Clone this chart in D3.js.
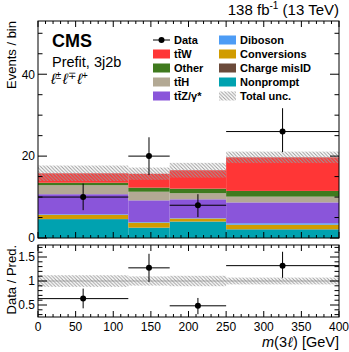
<!DOCTYPE html>
<html>
<head>
<meta charset="utf-8">
<script src="https://cdn.jsdelivr.net/npm/d3@7"></script>
<style>
  body { margin: 0; background: #fff; }
  svg text { font-family: "Liberation Sans", Arial, sans-serif; fill: #000; }
</style>
</head>
<body>
<div id="chart"></div>
<script>
// bins in m(3l)
var binEdges = [0, 120, 175, 250, 400];

// prefit yields per bin
var nonprompt   = [4.6, 2.5, 4.0, 2.1];
var chargeMisID = [0.05, 0.05, 0.05, 0.05];
var conversions = [1.0, 1.2, 0.7, 1.1];
var diboson     = [0.15, 0.15, 0.1, 0.35];
var ttZ         = [4.9, 5.3, 4.6, 5.1];
var ttH         = [2.2, 2.1, 1.5, 1.4];
var other       = [0.6, 1.0, 1.1, 1.4];
var ttW         = [2.3, 3.4, 4.5, 8.2];
var totalUnc    = [1.9, 1.5, 1.8, 1.4];

// data
var dataY     = [10, 20, 8, 26];
var dataErrLo = [3.2, 4.6, 2.9, 5.0];
var dataErrHi = [3.3, 4.6, 2.7, 5.7];

var xTicks = [0, 50, 100, 150, 200, 250, 300, 350, 400];
var yTicks = [0, 20, 40];
var rTicks = [0.5, 1, 1.5];

var procs = [
  {key: "nonprompt",   vals: nonprompt,   color: "#00a2b0"},
  {key: "chargeMisID", vals: chargeMisID, color: "#6b4a3a"},
  {key: "conversions", vals: conversions, color: "#d19c00"},
  {key: "diboson",     vals: diboson,     color: "#4d9cf5"},
  {key: "ttZ",         vals: ttZ,         color: "#8a55da"},
  {key: "ttH",         vals: ttH,         color: "#b3a994"},
  {key: "other",       vals: other,       color: "#3f7a1e"},
  {key: "ttW",         vals: ttW,         color: "#ff3636"}
];

var bins = d3.range(binEdges.length - 1).map(function(i){
  var row = {lo: binEdges[i], hi: binEdges[i+1]};
  procs.forEach(function(p){ row[p.key] = p.vals[i]; });
  return row;
});
var totals = bins.map(function(b){ return d3.sum(procs, function(p){ return b[p.key]; }); });

var W = 349, H = 352;
var left = 38, right = 339;
var main = {top: 21, bottom: 238};
var rat = {top: 245, bottom: 317};

var svg = d3.select("#chart").append("svg").attr("width", W).attr("height", H);

var defs = svg.append("defs");
defs.append("pattern")
    .attr("id", "hatch")
    .attr("patternUnits", "userSpaceOnUse")
    .attr("width", 3.5).attr("height", 3.5)
  .append("path")
    .attr("d", "M-1,-1 L4.5,4.5 M2.5,-1 L4.5,1 M-1,2.5 L1,4.5")
    .attr("stroke", "#9a9a9a")
    .attr("stroke-width", 1);

var x = d3.scaleLinear().domain([0, 400]).range([left, right]);
var y = d3.scaleLinear().domain([0, 53]).range([main.bottom, main.top]);
var yr = d3.scaleLinear().domain([0.25, 1.75]).range([rat.bottom, rat.top]);

// stacked histogram
var stack = d3.stack().keys(procs.map(function(p){ return p.key; }));
var layers = stack(bins);

var gMain = svg.append("g");
layers.forEach(function(layer, li){
  gMain.selectAll(null).data(layer).enter().append("rect")
      .attr("x", function(d){ return x(d.data.lo); })
      .attr("width", function(d){ return x(d.data.hi) - x(d.data.lo); })
      .attr("y", function(d){ return y(d[1]); })
      .attr("height", function(d){ return y(d[0]) - y(d[1]); })
      .attr("fill", procs[li].color);
});

// total uncertainty band
gMain.selectAll(null).data(bins).enter().append("rect")
    .attr("x", function(d){ return x(d.lo); })
    .attr("width", function(d){ return x(d.hi) - x(d.lo); })
    .attr("y", function(d, i){ return y(totals[i] + totalUnc[i]); })
    .attr("height", function(d, i){ return y(totals[i] - totalUnc[i]) - y(totals[i] + totalUnc[i]); })
    .attr("fill", "url(#hatch)");

// data points
function drawPoints(g, yScale, valFn, loFn, hiFn){
  bins.forEach(function(b, i){
    var cx = x((b.lo + b.hi) / 2), cy = yScale(valFn(i));
    g.append("line").attr("x1", x(b.lo)).attr("x2", x(b.hi)).attr("y1", cy).attr("y2", cy)
        .attr("stroke", "#000").attr("stroke-width", 1);
    g.append("line").attr("x1", cx).attr("x2", cx).attr("y1", yScale(loFn(i))).attr("y2", yScale(hiFn(i)))
        .attr("stroke", "#000").attr("stroke-width", 1);
    g.append("circle").attr("cx", cx).attr("cy", cy).attr("r", 3).attr("fill", "#000");
  });
}
drawPoints(gMain, y,
  function(i){ return dataY[i]; },
  function(i){ return dataY[i] - dataErrLo[i]; },
  function(i){ return dataY[i] + dataErrHi[i]; });

// ratio panel
var gRat = svg.append("g");
gRat.append("line").attr("x1", left).attr("x2", right).attr("y1", yr(1)).attr("y2", yr(1))
    .attr("stroke", "#aaa").attr("stroke-width", 1);
gRat.selectAll(null).data(bins).enter().append("rect")
    .attr("x", function(d){ return x(d.lo); })
    .attr("width", function(d){ return x(d.hi) - x(d.lo); })
    .attr("y", function(d, i){ return yr(1 + totalUnc[i] / totals[i]); })
    .attr("height", function(d, i){ return yr(1 - totalUnc[i] / totals[i]) - yr(1 + totalUnc[i] / totals[i]); })
    .attr("fill", "url(#hatch)");
drawPoints(gRat, yr,
  function(i){ return dataY[i] / totals[i]; },
  function(i){ return (dataY[i] - dataErrLo[i]) / totals[i]; },
  function(i){ return (dataY[i] + dataErrHi[i]) / totals[i]; });

// frames and ticks
function frame(top, bottom, yScale, major, minorStep, showX){
  var g = svg.append("g");
  g.append("rect").attr("x", left).attr("y", top).attr("width", right - left).attr("height", bottom - top)
      .attr("fill", "none").attr("stroke", "#000").attr("stroke-width", 1);
  var d0 = yScale.domain();
  var minors = d3.range(Math.ceil(d0[0] / minorStep) * minorStep, d0[1] + 1e-9, minorStep);
  minors.forEach(function(v){
    var isMajor = major.some(function(m){ return Math.abs(m - v) < 1e-6; });
    var len = isMajor ? 9 : 4.5, yy = yScale(v);
    g.append("line").attr("x1", left).attr("x2", left + len).attr("y1", yy).attr("y2", yy).attr("stroke", "#000");
    g.append("line").attr("x1", right).attr("x2", right - len).attr("y1", yy).attr("y2", yy).attr("stroke", "#000");
  });
  major.forEach(function(v){
    g.append("text").attr("x", left - 3).attr("y", yScale(v)).attr("dy", "0.36em")
        .attr("text-anchor", "end").attr("font-size", 12).text(v);
  });
  d3.range(0, 401, 10).forEach(function(v){
    var len = v % 50 === 0 ? 6 : 3;
    g.append("line").attr("x1", x(v)).attr("x2", x(v)).attr("y1", bottom).attr("y2", bottom - len).attr("stroke", "#000");
    g.append("line").attr("x1", x(v)).attr("x2", x(v)).attr("y1", top).attr("y2", top + len).attr("stroke", "#000");
  });
  if (showX) {
    xTicks.forEach(function(v){
      g.append("text").attr("x", x(v)).attr("y", bottom + 14).attr("text-anchor", "middle")
          .attr("font-size", 12).text(v);
    });
  }
}
frame(main.top, main.bottom, y, yTicks, 5, false);
frame(rat.top, rat.bottom, yr, rTicks, 0.1, true);

// axis titles
svg.append("text").attr("transform", "translate(16," + main.top + ") rotate(-90)")
    .attr("text-anchor", "end").attr("font-size", 13).text("Events / bin");
svg.append("text").attr("transform", "translate(16," + rat.top + ") rotate(-90)")
    .attr("text-anchor", "end").attr("font-size", 13).text("Data / Pred.");
var xl = svg.append("text").attr("x", right).attr("y", 347).attr("text-anchor", "end").attr("font-size", 14.5);
xl.append("tspan").attr("font-style", "italic").text("m");
xl.append("tspan").text("(3");
xl.append("tspan").attr("font-style", "italic").attr("font-family", "'DejaVu Serif', serif").text("\u2113");
xl.append("tspan").text(") [GeV]");

var lumi = svg.append("text").attr("x", right).attr("y", 15).attr("text-anchor", "end").attr("font-size", 15);
lumi.append("tspan").text("138 fb");
lumi.append("tspan").attr("font-size", 10).attr("dy", -6).text("-1");
lumi.append("tspan").attr("dy", 6).text(" (13 TeV)");

svg.append("text").attr("x", 52).attr("y", 47).attr("font-size", 18).attr("font-weight", "bold").text("CMS");
svg.append("text").attr("x", 52).attr("y", 66.5).attr("font-size", 14.5).text("Prefit, 3j2b");

// l+- l-+ l+ : each lepton then a raised charge
var ell = svg.append("text").attr("x", 51).attr("y", 84).attr("font-size", 15)
    .attr("font-family", "'DejaVu Serif', serif").attr("font-style", "italic");
["\u00b1", "\u2213", "+"].forEach(function(s, i){
  ell.append("tspan").attr("dy", i === 0 ? 0 : 5).attr("dx", i === 0 ? 0 : 1.5).text("\u2113");
  ell.append("tspan").attr("font-size", 10).attr("dy", -5).attr("font-style", "normal")
      .attr("font-family", "'Liberation Sans', Arial, sans-serif").text(s);
});

// legend
var legCol1 = [
  {label: "Data", data: true},
  {label: "tt\u0304W", color: procs[7].color},
  {label: "Other", color: procs[6].color},
  {label: "tt\u0304H", color: procs[5].color},
  {label: "tt\u0304Z/\u03b3*", color: procs[4].color}
];
var legCol2 = [
  {label: "Diboson", color: procs[3].color},
  {label: "Conversions", color: procs[2].color},
  {label: "Charge misID", color: procs[1].color},
  {label: "Nonprompt", color: procs[0].color},
  {label: "Total unc.", hatch: true}
];
function legend(items, x0){
  items.forEach(function(it, i){
    var cy = 40 + i * 14;
    if (it.data) {
      svg.append("line").attr("x1", x0).attr("x2", x0 + 17).attr("y1", cy).attr("y2", cy).attr("stroke", "#000");
      svg.append("circle").attr("cx", x0 + 8.5).attr("cy", cy).attr("r", 3).attr("fill", "#000");
    } else {
      svg.append("rect").attr("x", x0).attr("y", cy - 4.5).attr("width", 17).attr("height", 9)
          .attr("fill", it.hatch ? "url(#hatch)" : it.color);
    }
    svg.append("text").attr("x", x0 + 21).attr("y", cy).attr("dy", "0.36em")
        .attr("font-size", 11).attr("font-weight", "bold").text(it.label);
  });
}
legend(legCol1, 153);
legend(legCol2, 219);
</script>
</body>
</html>
